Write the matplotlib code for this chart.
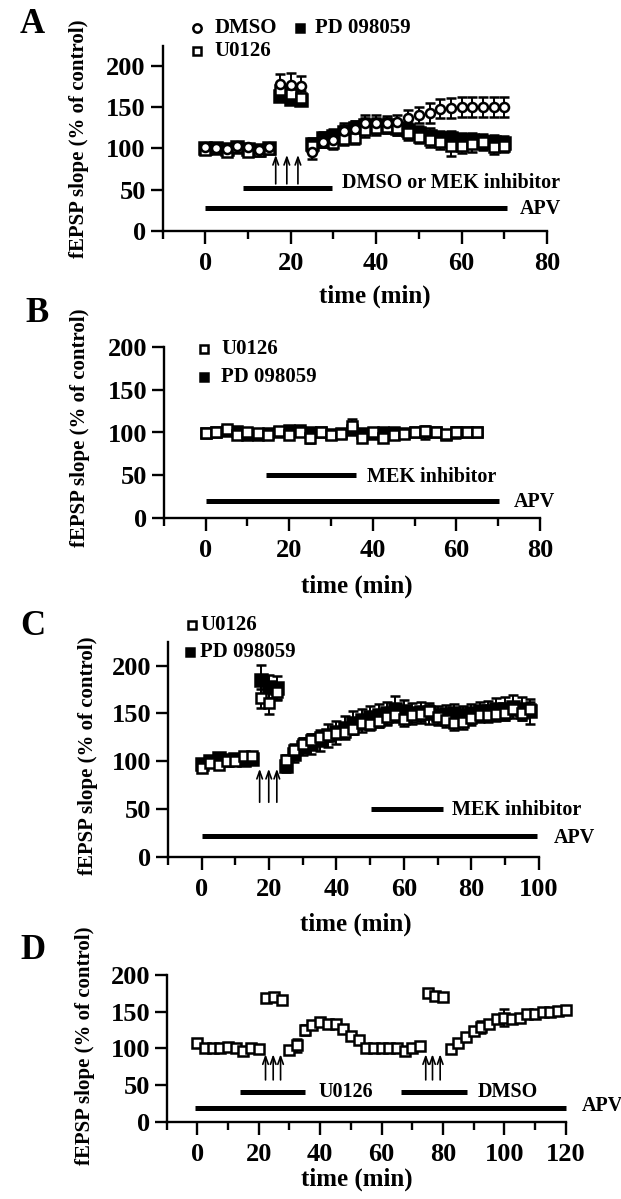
import numpy as np
import matplotlib
matplotlib.use("Agg")
import matplotlib.pyplot as plt
from matplotlib.ticker import MultipleLocator

plt.rcParams['font.family'] = ['Liberation Serif', 'DejaVu Serif']
plt.rcParams['font.weight'] = 'bold'
plt.rcParams['axes.labelweight'] = 'bold'

# ---------------- panel A ----------------
a_time = [0, 2.5, 5, 7.5, 10, 12.5, 15, 17.5, 20, 22.5, 25, 27.5, 30, 32.5, 35, 37.5,
          40, 42.5, 45, 47.5, 50, 52.5, 55, 57.5, 60, 62.5, 65, 67.5, 70]
a_dmso = [101, 100, 99, 103, 102, 98, 102, 178, 177, 175, 96, 108, 110, 121, 123, 130,
          131, 131, 132, 137, 140, 143, 148, 149, 150, 150, 150, 150, 150]
a_dmso_err = [3, 3, 4, 3, 3, 4, 4, 12, 14, 12, 9, 7, 8, 9, 10, 10,
              9, 8, 8, 9, 10, 12, 12, 12, 12, 12, 12, 12, 12]
a_u0126 = [98, 100, 96, 102, 96, 97, 99, 170, 166, 161, 103, 108, 106, 111, 113, 122,
           124, 126, 124, 118, 114, 110, 108, 103, 103, 105, 107, 102, 103]
a_u0126_err = [4, 3, 4, 4, 5, 4, 4, 8, 8, 8, 6, 6, 7, 7, 8, 8,
               8, 8, 8, 8, 8, 9, 9, 12, 9, 9, 9, 9, 8]
a_pd = [100, 100, 99, 101, 99, 98, 100, 163, 160, 158, 105, 112, 115, 120, 125, 128,
        127, 128, 125, 122, 118, 115, 112, 112, 110, 110, 108, 107, 106]
a_pd_err = [4, 3, 4, 4, 5, 4, 5, 6, 6, 6, 8, 8, 8, 8, 8, 9,
            9, 9, 9, 9, 9, 9, 9, 9, 9, 9, 9, 9, 9]
a_arrows = [16.5, 19.1, 21.7]
a_drug = (8.8, 29.6)
a_apv = (0, 70.6)

# ---------------- panel B ----------------
b_time = [0, 2.5, 5, 7.5, 10, 12.5, 15, 17.5, 20, 22.5, 25, 27.5, 30, 32.5,
          35, 37.5, 40, 42.5, 45, 47.5, 50, 52.5, 55, 57.5, 60, 62.5, 65]
b_u0126 = [99, 101, 104, 97, 100, 99, 97, 102, 97, 101, 94, 101, 97, 98,
           107, 94, 100, 94, 97, 98, 101, 102, 100, 98, 100, 101, 101]
b_u0126_err = [3, 3, 3, 4, 3, 3, 3, 3, 4, 3, 6, 3, 3, 3,
               9, 3, 3, 3, 3, 3, 3, 4, 3, 3, 3, 3, 3]
b_pd = [99, 101, 102, 102, 97, 97, 99, 101, 103, 103, 100, 100, 98, 99,
        103, 99, 98, 100, 100, 99, 100, 100, 101, 97, 100, 101, 101]
b_pd_err = [4, 3, 3, 4, 4, 4, 3, 3, 4, 5, 4, 3, 3, 3,
            4, 3, 3, 3, 4, 3, 4, 7, 4, 3, 6, 3, 3]
b_drug = (14.5, 35.9)
b_apv = (0, 70.3)

# ---------------- panel C ----------------
c_time = [0, 2.5, 5, 7.5, 10, 12.5, 15, 17.5, 20, 22.5,
          25, 27.5, 30, 32.5, 35, 37.5, 40, 42.5, 45, 47.5, 50, 52.5, 55, 57.5, 60,
          62.5, 65, 67.5, 70, 72.5, 75, 77.5, 80, 82.5, 85, 87.5, 90, 92.5, 95, 97.5]
c_u0126 = [93, 98, 96, 100, 100, 105, 105, 166, 161, 172,
           101, 112, 118, 122, 125, 127, 129, 131, 134, 140, 139, 142, 146, 148, 144,
           148, 149, 152, 146, 143, 140, 141, 145, 148, 148, 149, 150, 155, 150, 155]
c_u0126_err = [3, 3, 3, 3, 3, 3, 3, 10, 12, 8,
               5, 6, 6, 6, 6, 6, 6, 6, 6, 6, 6, 6, 7, 7, 7,
               7, 7, 7, 7, 7, 7, 7, 7, 7, 7, 7, 7, 7, 7, 7]
c_pd = [97, 100, 103, 101, 102, 101, 102, 185, 178, 177,
        95, 107, 115, 118, 122, 127, 130, 135, 140, 143, 146, 148, 150, 155, 152,
        150, 151, 150, 148, 149, 150, 148, 150, 152, 153, 155, 155, 157, 155, 152]
c_pd_err = [4, 4, 4, 4, 4, 4, 4, 16, 12, 12,
            6, 8, 9, 10, 11, 12, 12, 12, 12, 12, 12, 12, 12, 13, 12,
            11, 11, 11, 10, 10, 10, 10, 10, 10, 10, 11, 12, 12, 12, 13]
c_arrows = [17.2, 19.9, 22.3]
c_drug = (50.2, 71.7)
c_apv = (0, 99.4)

# ---------------- panel D ----------------
d_time = [0, 2.5, 5, 7.5, 10, 12.5, 15, 17.5, 20, 22.5, 25, 27.5,
          30, 32.5, 35, 37.5, 40, 42.5, 45, 47.5, 50, 52.5, 55, 57.5, 60, 62.5, 65, 67.5, 70, 72.5,
          75, 77.5, 80, 82.5, 85, 87.5, 90, 92.5, 95, 97.5, 100, 102.5, 105, 107.5, 110, 112.5,
          115, 117.5, 120]
d_u0126 = [107, 100, 100, 100, 102, 100, 96, 100, 99, 168, 170, 166,
           98, 104, 125, 132, 136, 133, 133, 127, 117, 111, 101, 100, 100, 100, 100, 97, 101, 103,
           176, 172, 170, 99, 107, 115, 123, 129, 133, 140, 142, 140, 142, 147, 147, 149,
           150, 151, 152]
d_u0126_err = [2, 2, 2, 2, 2, 2, 2, 2, 2, 2, 2, 6,
               2, 9, 7, 4, 2, 2, 2, 2, 2, 2, 2, 2, 2, 2, 2, 2, 2, 2,
               2, 2, 2, 2, 2, 2, 2, 8, 4, 3, 11, 2, 2, 2, 2, 2,
               2, 2, 2]
d_arrows1 = [22.2, 24.7, 27.1]
d_arrows2 = [74.4, 76.6, 79.1]
d_u0126_bar = (13.8, 35.1)
d_dmso_bar = (66.4, 87.8)
d_apv = (-0.9, 120)

W, H = 621, 1199
fig = plt.figure(figsize=(W / 100, H / 100), dpi=100)


def make_axes(left, right, bottom, top):
    return fig.add_axes([left / W, 1 - bottom / H, (right - left) / W, (bottom - top) / H])


def style(ax, xmax, ymax, xstep):
    ax.set_xlim(-10, xmax)
    ax.set_ylim(0, ymax)
    ax.spines['top'].set_visible(False)
    ax.spines['right'].set_visible(False)
    ax.spines['left'].set_linewidth(1.7)
    ax.spines['bottom'].set_linewidth(1.7)
    ax.set_xticks(np.arange(0, xmax + 1, xstep))
    ax.xaxis.set_minor_locator(MultipleLocator(10))
    ax.set_yticks([0, 50, 100, 150, 200])
    ax.tick_params(which='major', length=9, width=1.7, labelsize=19)
    ax.tick_params(axis='x', which='major', pad=6)
    ax.tick_params(axis='y', which='major', pad=3)
    ax.tick_params(which='minor', length=5.5, width=1.7)
    ax.set_xlabel('time (min)', fontsize=18)
    ax.set_ylabel('fEPSP slope (% of control)', fontsize=15)


def series(ax, t, y, e, marker, filled, ms):
    ax.errorbar(t, y, yerr=e, fmt=marker, ms=ms, mfc='black' if filled else 'white',
                mec='black', mew=1.8, ecolor='black', elinewidth=1.4,
                capsize=3.8, capthick=1.4, clip_on=False, zorder=3)


def bar(ax, span, yv, text, tx, ty):
    ax.plot(span, [yv, yv], color='black', lw=3.6, solid_capstyle='butt', clip_on=False)
    ax.text(tx, ty, text, fontsize=14.5, va='center', ha='left', clip_on=False)


def arrows(ax, xs):
    for x in xs:
        ax.annotate('', xy=(x, 92), xytext=(x, 57),
                    arrowprops=dict(arrowstyle='->,head_length=0.55,head_width=0.2',
                                    lw=1.2, color='black', shrinkA=0, shrinkB=0))


def key(ax, x, y, marker, filled, text, tx, ms=6.0):
    ax.plot([x], [y], marker=marker, ms=ms, mfc='black' if filled else 'white',
            mec='black', mew=1.8, ls='none', clip_on=False)
    ax.text(tx, y, text, fontsize=15, va='center', ha='left', clip_on=False)


# ---- A ----
ax = make_axes(162.5, 547, 231, 45.7)
style(ax, 80, 224, 20)
series(ax, a_time, a_pd, a_pd_err, 's', True, 8)
series(ax, a_time, a_u0126, a_u0126_err, 's', False, 7)
series(ax, a_time, a_dmso, a_dmso_err, 'o', False, 6.5)
arrows(ax, a_arrows)
bar(ax, a_drug, 51.7, 'DMSO or MEK inhibitor', 31.9, 58)
bar(ax, a_apv, 27.5, 'APV', 73.7, 27)
key(ax, -2, 245, 'o', False, 'DMSO', 2.2)
key(ax, 22.3, 245, 's', True, 'PD 098059', 25.6)
key(ax, -2, 217, 's', False, 'U0126', 2.2)
ax.xaxis.set_label_coords(0.553, -0.29)
ax.yaxis.set_label_coords(-0.19, 0.5)

# ---- B ----
ax = make_axes(163.8, 540, 518.3, 346.7)
style(ax, 80, 200, 20)
series(ax, b_time, b_pd, b_pd_err, 's', True, 7.5)
series(ax, b_time, b_u0126, b_u0126_err, 's', False, 6.5)
bar(ax, b_drug, 50.5, 'MEK inhibitor', 38.7, 48.5)
bar(ax, b_apv, 20.2, 'APV', 73.8, 19.5)
key(ax, -0.4, 197, 's', False, 'U0126', 3.7)
key(ax, -0.4, 164.7, 's', True, 'PD 098059', 3.7)
ax.xaxis.set_label_coords(0.512, -0.33)
ax.yaxis.set_label_coords(-0.195, 0.53)

# ---- C ----
ax = make_axes(168, 538.6, 856.7, 641.7)
style(ax, 100, 225, 20)
series(ax, c_time, c_pd, c_pd_err, 's', True, 8)
series(ax, c_time, c_u0126, c_u0126_err, 's', False, 6.5)
arrows(ax, c_arrows)
bar(ax, c_drug, 49.7, 'MEK inhibitor', 74.3, 49)
bar(ax, c_apv, 22, 'APV', 104.5, 20)
key(ax, -3, 243, 's', False, 'U0126', -0.4)
key(ax, -3.4, 214.7, 's', True, 'PD 098059', -0.4)
ax.xaxis.set_label_coords(0.507, -0.26)
ax.yaxis.set_label_coords(-0.19, 0.47)

# ---- D ----
ax = make_axes(166.7, 565.7, 1121.7, 975)
style(ax, 120, 200, 20)
series(ax, d_time, d_u0126, d_u0126_err, 's', False, 6.5)
arrows(ax, d_arrows1)
arrows(ax, d_arrows2)
bar(ax, d_u0126_bar, 40, 'U0126', 39.4, 40)
bar(ax, d_dmso_bar, 40, 'DMSO', 91.4, 40)
bar(ax, d_apv, 19, 'APV', 125.2, 22)
ax.xaxis.set_label_coords(0.477, -0.31)
ax.yaxis.set_label_coords(-0.18, 0.52)

# panel letters
for lx, ly, letter in [(20, 33, 'A'), (25, 322, 'B'), (20, 635, 'C'), (20, 959, 'D')]:
    fig.text(lx / W, 1 - ly / H, letter, fontsize=25, va='baseline', ha='left')

plt.savefig('out.png', dpi=100)
